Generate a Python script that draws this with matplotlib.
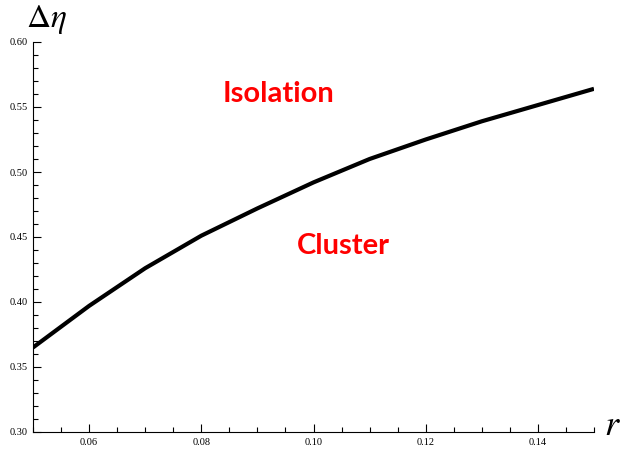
import numpy as np
import matplotlib.pyplot as plt
from matplotlib.ticker import MultipleLocator, FormatStrFormatter

r_vals = [0.05, 0.06, 0.07, 0.08, 0.09, 0.10, 0.11, 0.12, 0.13, 0.14, 0.15]
deta_vals = [0.365, 0.397, 0.426, 0.451, 0.472, 0.492, 0.510, 0.525, 0.539, 0.5515, 0.564]

fig = plt.figure(figsize=(6.21, 4.53), dpi=100)
ax = fig.add_axes([33 / 621, 21 / 453, 561 / 621, 390 / 453])

ax.plot(r_vals, deta_vals, color="black", lw=3.0, solid_capstyle="butt")

ax.set_xlim(0.05, 0.15)
ax.set_ylim(0.30, 0.60)
ax.spines["top"].set_visible(False)
ax.spines["right"].set_visible(False)
ax.spines["left"].set_linewidth(0.8)
ax.spines["bottom"].set_linewidth(0.8)

ax.xaxis.set_major_locator(MultipleLocator(0.02))
ax.xaxis.set_minor_locator(MultipleLocator(0.005))
ax.yaxis.set_major_locator(MultipleLocator(0.05))
ax.yaxis.set_minor_locator(MultipleLocator(0.01))
ax.xaxis.set_major_formatter(FormatStrFormatter("%.2f"))
ax.yaxis.set_major_formatter(FormatStrFormatter("%.2f"))
ax.tick_params(which="both", direction="in", width=0.8, labelsize=7.5, pad=4)
ax.tick_params(which="major", length=6)
ax.tick_params(which="minor", length=3.5)
ax.set_xticks([0.06, 0.08, 0.10, 0.12, 0.14])
for lab in ax.get_xticklabels() + ax.get_yticklabels():
    lab.set_family("Liberation Serif")

ax.text(0.0937, 0.560, "Isolation", color="red", fontsize=21, fontweight="bold",
        family="Lato", ha="center", va="center")
ax.text(0.1053, 0.443, "Cluster", color="red", fontsize=21, fontweight="bold",
        family="Lato", ha="center", va="center")

fig.text(46 / 621, 1 - 19 / 453, r"$\Delta\eta$", fontsize=24, ha="center", va="center",
         math_fontfamily="stix")
fig.text(612 / 621, 1 - 425 / 453, r"$r$", fontsize=26, ha="center", va="center",
         math_fontfamily="stix")

fig.savefig("out.png", dpi=100)
